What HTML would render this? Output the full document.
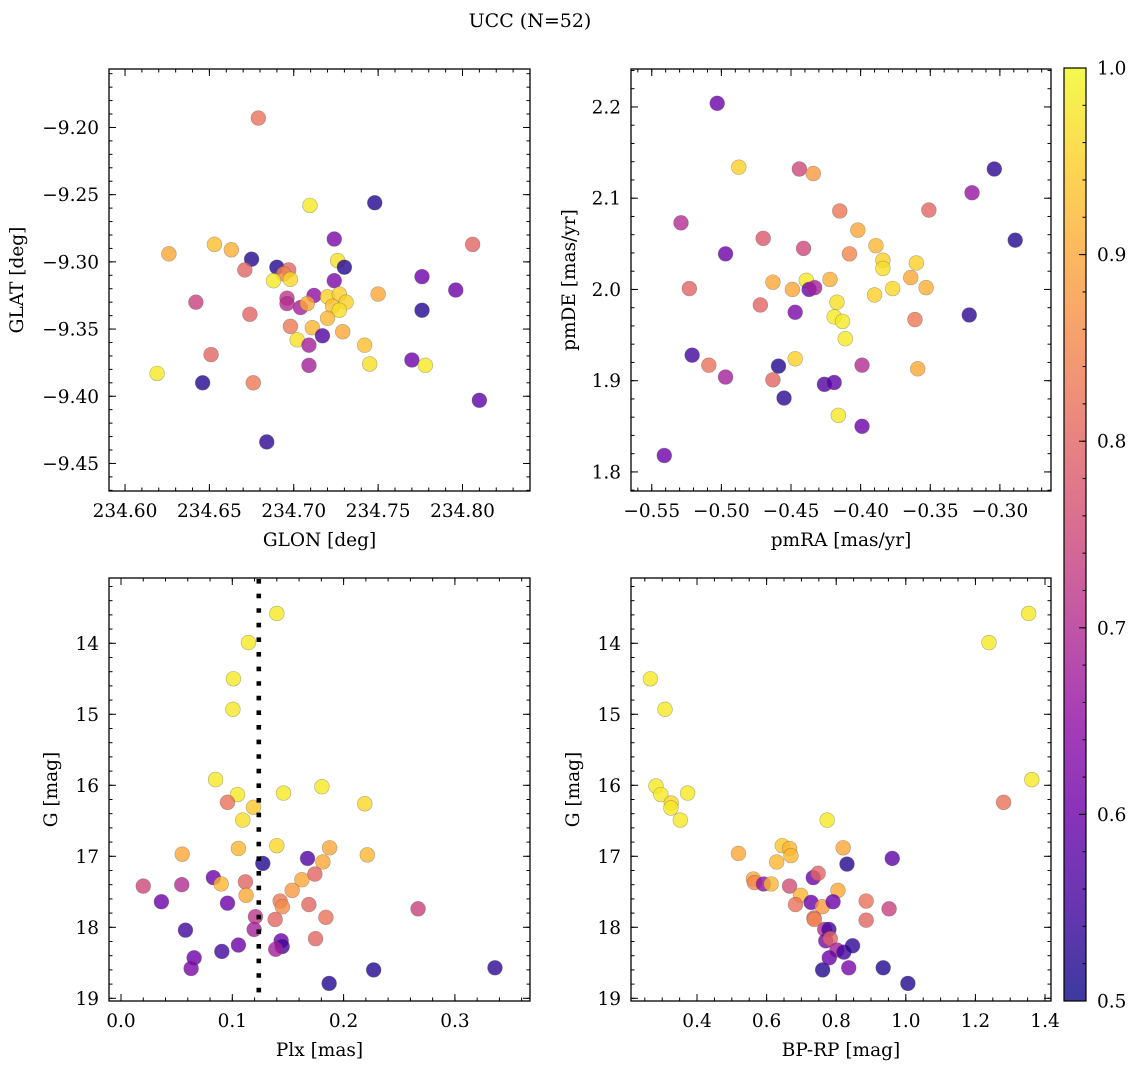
<!DOCTYPE html>
<html><head><meta charset="utf-8"><style>
html,body{margin:0;padding:0;background:#fff;}
svg text{font-family:"DejaVu Serif","Liberation Serif",serif;fill:#000;}
</style></head><body>
<svg id="fig" xmlns="http://www.w3.org/2000/svg" width="1136" height="1068" viewBox="0 0 1136 1068">
<rect x="0" y="0" width="1136" height="1068" fill="#fff"/>
<text x="530" y="27" font-size="19" text-anchor="middle">UCC (N=52)</text>
</svg>
<script>
// Panel 1: GLON vs GLAT
const glon=[234.679,234.7096,234.748,234.724,234.653,234.626,234.663,234.675,234.806,234.671,234.690,234.697,234.694,234.726,234.730,234.688,234.698,234.724,234.776,234.796,234.642,234.696,234.696,234.712,234.704,234.708,234.720,234.727,234.731,234.723,234.727,234.750,234.776,234.674,234.720,234.698,234.711,234.729,234.717,234.702,234.709,234.742,234.651,234.770,234.709,234.745,234.778,234.619,234.646,234.676,234.810,234.684];
const glat=[-9.193,-9.258,-9.256,-9.283,-9.287,-9.294,-9.291,-9.298,-9.287,-9.306,-9.304,-9.306,-9.309,-9.299,-9.304,-9.314,-9.313,-9.314,-9.311,-9.321,-9.330,-9.327,-9.331,-9.325,-9.334,-9.331,-9.326,-9.324,-9.330,-9.333,-9.336,-9.324,-9.336,-9.339,-9.342,-9.348,-9.349,-9.352,-9.355,-9.358,-9.362,-9.362,-9.369,-9.373,-9.377,-9.376,-9.377,-9.383,-9.390,-9.390,-9.403,-9.434];
const prob1=[0.82,0.98,0.52,0.62,0.93,0.9,0.91,0.52,0.8,0.8,0.52,0.8,0.85,0.97,0.52,0.98,0.96,0.62,0.6,0.6,0.74,0.72,0.7,0.65,0.68,0.9,0.95,0.95,0.95,0.93,0.97,0.9,0.52,0.8,0.92,0.83,0.92,0.9,0.57,0.97,0.68,0.93,0.8,0.6,0.68,0.97,0.98,0.98,0.52,0.83,0.58,0.53];
// Panel 2: pmRA vs pmDE
const pmra=[-0.503,-0.4875,-0.444,-0.434,-0.304,-0.320,-0.529,-0.415,-0.351,-0.402,-0.470,-0.441,-0.497,-0.408,-0.389,-0.384,-0.384,-0.289,-0.360,-0.523,-0.463,-0.439,-0.449,-0.437,-0.433,-0.422,-0.364,-0.353,-0.377,-0.390,-0.472,-0.417,-0.447,-0.419,-0.413,-0.361,-0.322,-0.411,-0.521,-0.447,-0.509,-0.459,-0.399,-0.359,-0.497,-0.463,-0.426,-0.419,-0.455,-0.416,-0.399,-0.541];
const pmde=[2.204,2.134,2.132,2.127,2.132,2.106,2.073,2.086,2.087,2.065,2.056,2.045,2.039,2.039,2.048,2.032,2.023,2.054,2.029,2.001,2.008,2.010,2.000,2.000,2.002,2.011,2.013,2.002,2.001,1.994,1.983,1.986,1.975,1.970,1.965,1.967,1.972,1.946,1.928,1.924,1.917,1.916,1.917,1.913,1.904,1.901,1.896,1.898,1.881,1.862,1.850,1.818];
const prob2=[0.6,0.95,0.75,0.88,0.53,0.66,0.7,0.83,0.8,0.9,0.78,0.75,0.6,0.85,0.92,0.95,0.97,0.52,0.95,0.8,0.9,0.98,0.9,0.6,0.68,0.91,0.9,0.91,0.96,0.95,0.8,0.97,0.62,0.98,0.98,0.83,0.53,0.98,0.55,0.95,0.82,0.52,0.7,0.9,0.68,0.8,0.57,0.58,0.53,0.98,0.6,0.6];
// Panel 3: Plx vs G
const plx=[0.140,0.1145,0.101,0.1005,0.085,0.1047,0.146,0.1805,0.0957,0.119,0.1094,0.219,0.055,0.1055,0.140,0.1874,0.2213,0.1274,0.1676,0.1814,0.020,0.0546,0.083,0.090,0.1118,0.1124,0.1625,0.1742,0.1538,0.0363,0.0957,0.143,0.145,0.1688,0.2669,0.1208,0.1385,0.1841,0.0579,0.1196,0.1748,0.1439,0.1448,0.139,0.1055,0.0906,0.0657,0.063,0.227,0.187,0.336];
const g3=[13.58,13.99,14.50,14.93,15.92,16.13,16.11,16.02,16.24,16.31,16.49,16.26,16.97,16.89,16.85,16.88,16.98,17.10,17.03,17.08,17.42,17.40,17.30,17.39,17.36,17.55,17.33,17.25,17.48,17.64,17.66,17.63,17.71,17.68,17.74,17.85,17.89,17.86,18.04,18.03,18.16,18.19,18.27,18.31,18.25,18.34,18.43,18.58,18.60,18.79,18.57];
const prob3=[0.98,0.98,0.98,0.98,0.98,0.98,0.98,0.98,0.82,0.94,0.97,0.96,0.9,0.92,0.96,0.9,0.92,0.52,0.57,0.9,0.75,0.7,0.6,0.92,0.8,0.9,0.9,0.8,0.88,0.6,0.6,0.83,0.86,0.8,0.74,0.72,0.8,0.82,0.55,0.68,0.8,0.6,0.55,0.68,0.6,0.55,0.6,0.62,0.52,0.52,0.53];
const plxLine=[0.1238];
// Panel 4: BP-RP vs G
const bprp=[1.353,1.239,0.266,0.308,1.362,1.281,0.282,0.296,0.326,0.325,0.373,0.352,0.774,0.519,0.645,0.666,0.670,0.629,0.820,0.831,0.961,0.562,0.565,0.591,0.613,0.666,0.734,0.748,0.698,0.805,0.683,0.728,0.760,0.791,0.886,0.952,0.736,0.737,0.886,0.767,0.779,0.770,0.783,0.802,0.822,0.847,0.780,0.761,0.836,0.935,1.006];
const g4=[13.58,13.99,14.50,14.93,15.92,16.24,16.01,16.13,16.25,16.32,16.11,16.49,16.49,16.96,16.85,16.89,16.99,17.08,16.88,17.11,17.03,17.32,17.37,17.39,17.39,17.42,17.30,17.24,17.55,17.48,17.68,17.65,17.71,17.64,17.63,17.74,17.87,17.89,17.90,18.03,18.03,18.19,18.16,18.32,18.35,18.26,18.43,18.60,18.57,18.57,18.79];
const prob4=[0.98,0.98,0.98,0.98,0.98,0.82,0.98,0.98,0.96,0.98,0.98,0.98,0.98,0.9,0.94,0.92,0.92,0.92,0.9,0.52,0.58,0.9,0.85,0.65,0.92,0.76,0.6,0.8,0.92,0.9,0.82,0.6,0.88,0.6,0.82,0.74,0.8,0.85,0.8,0.7,0.55,0.62,0.8,0.68,0.55,0.53,0.6,0.52,0.62,0.52,0.52];
const cbTicks=[0.5,0.6,0.7,0.8,0.9,1.0];

const NS="http://www.w3.org/2000/svg";
const svg=document.getElementById('fig');
const FS=18.5;
function mk(tag,attrs,parent){const e=document.createElementNS(NS,tag);for(const k in attrs)e.setAttribute(k,attrs[k]);(parent||svg).appendChild(e);return e;}
const stops=["#0d0887","#41049d","#6a00a8","#8f0da4","#b12a90","#cc4778","#e16462","#f2844b","#fca636","#fcce25","#f0f921"];
function hx(h){return [parseInt(h.slice(1,3),16),parseInt(h.slice(3,5),16),parseInt(h.slice(5,7),16)];}
function plasma(t){t=Math.max(0,Math.min(1,t));const f=t*10,i=Math.min(9,Math.floor(f)),r=f-i;const a=hx(stops[i]),b=hx(stops[i+1]);return 'rgb('+a.map((v,k)=>Math.round(v+(b[k]-v)*r)).join(',')+')';}
function cnorm(p){return (p-0.5)/0.5;}
function fmt(v,d){const s=Math.abs(v).toFixed(d);return (v<-1e-9?'\u2212':'')+s;}

function panel(o){
  const g=mk('g',{});
  
  
  const X=v=>o.px0+(v-o.xr[0])/(o.xr[1]-o.xr[0])*(o.px1-o.px0);
  const Y=v=>o.inv? o.py0+(v-o.yr[0])/(o.yr[1]-o.yr[0])*(o.py1-o.py0) : o.py1-(v-o.yr[0])/(o.yr[1]-o.yr[0])*(o.py1-o.py0);
  const tg=mk('g',{stroke:'#000','stroke-width':1},g);
  function ticksX(step,len,labels){
    const s=Math.ceil(o.xr[0]/step-1e-6);
    for(let k=s;k*step<=o.xr[1]+1e-9;k++){const v=k*step,x=X(v);
      mk('line',{x1:x,y1:o.py1,x2:x,y2:o.py1-len},tg);mk('line',{x1:x,y1:o.py0,x2:x,y2:o.py0+len},tg);
      if(labels){const t=mk('text',{x:x,y:o.py1+26,'font-size':FS,'text-anchor':'middle'},g);t.textContent=fmt(v,o.xd);
        
        }}
  }
  function ticksY(step,len,labels){
    const lo=Math.min(o.yr[0],o.yr[1]),hi=Math.max(o.yr[0],o.yr[1]);
    const s=Math.ceil(lo/step-1e-6);
    for(let k=s;k*step<=hi+1e-9;k++){const v=k*step,y=Y(v);
      mk('line',{x1:o.px0,y1:y,x2:o.px0+len,y2:y},tg);mk('line',{x1:o.px1,y1:y,x2:o.px1-len,y2:y},tg);
      if(labels){const t=mk('text',{x:o.px0-10,y:y+6.5,'font-size':FS,'text-anchor':'end'},g);t.textContent=fmt(v,o.yd);
        
        }}
  }
  ticksX(o.xmin,3.5,false);ticksX(o.xmaj,7,true);ticksY(o.ymin,3.5,false);ticksY(o.ymaj,7,true);
  for(let i=0;i<o.xs.length;i++){
    const c=mk('circle',{cx:X(o.xs[i]),cy:Y(o.ys[i]),r:7.4,fill:plasma(cnorm(o.ps[i])),'fill-opacity':0.8,stroke:'#555','stroke-opacity':0.45,'stroke-width':0.6},g);
    
    
  }
  if(o.vline){for(const v of o.vline){const l=mk('line',{x1:X(v),y1:o.py0+1,x2:X(v),y2:o.py1,stroke:'#000','stroke-width':4.6,'stroke-dasharray':'4.6 10'},g);
    
    }}
  const fr=mk('rect',{x:o.px0,y:o.py0,width:o.px1-o.px0,height:o.py1-o.py0,fill:'none',stroke:'#000','stroke-width':1.3},g);
  
  
  const xl=mk('text',{x:(o.px0+o.px1)/2,y:o.py1+55,'font-size':FS,'text-anchor':'middle'},g);xl.textContent=o.xlabel;
  
  
  const cy=(o.py0+o.py1)/2;
  const yl=mk('text',{x:o.ylx,y:cy,'font-size':FS,'text-anchor':'middle',transform:'rotate(-90 '+o.ylx+' '+cy+')'},g);yl.textContent=o.ylabel;
  
  
}

panel({name:'glon-glat-panel',xs:glon,ys:glat,ps:prob1,px0:109,px1:530,py0:69,py1:491,xr:[234.5905,234.840],yr:[-9.4705,-9.1565],inv:false,xmaj:0.05,xmin:0.01,ymaj:0.05,ymin:0.01,xd:2,yd:2,xlabel:'GLON [deg]',ylabel:'GLAT [deg]',ylx:23});
panel({name:'pm-panel',xs:pmra,ys:pmde,ps:prob2,px0:631,px1:1051,py0:69,py1:491,xr:[-0.5649,-0.2633],yr:[1.7791,2.2416],inv:false,xmaj:0.05,xmin:0.01,ymaj:0.1,ymin:0.02,xd:2,yd:1,xlabel:'pmRA [mas/yr]',ylabel:'pmDE [mas/yr]',ylx:575});
panel({name:'plx-g-panel',xs:plx,ys:g3,ps:prob3,vline:plxLine,px0:109,px1:530,py0:578,py1:1001,xr:[-0.01078,0.36747],yr:[13.0806,19.0380],inv:true,xmaj:0.1,xmin:0.02,ymaj:1,ymin:0.2,xd:1,yd:0,xlabel:'Plx [mas]',ylabel:'G [mag]',ylx:57});
panel({name:'cmd-panel',xs:bprp,ys:g4,ps:prob4,px0:631,px1:1051,py0:578,py1:1001,xr:[0.2103,1.4172],yr:[13.0806,19.0380],inv:true,xmaj:0.2,xmin:0.05,ymaj:1,ymin:0.2,xd:1,yd:0,xlabel:'BP-RP [mag]',ylabel:'G [mag]',ylx:579});

(function(){
  const x0=1064,x1=1086,y0=68,y1=1001;
  const cb=mk('g',{});
  
  
  const defs=mk('defs',{},svg);
  const lg=mk('linearGradient',{id:'cbg',x1:0,y1:1,x2:0,y2:0},defs);
  for(let i=0;i<=20;i++){mk('stop',{offset:(i/20),'stop-color':plasma(i/20),'stop-opacity':0.8},lg);}
  mk('rect',{x:x0,y:y0,width:x1-x0,height:y1-y0,fill:'url(#cbg)',stroke:'#000','stroke-width':1.2},cb);
  const Yc=v=>y1-(v-0.5)/0.5*(y1-y0);
  for(let k=25;k<=50;k++){const v=k*0.02,y=Yc(v);mk('line',{x1:x1,y1:y,x2:x1-3.5,y2:y,stroke:'#000','stroke-width':1},cb);}
  for(const v of cbTicks){const y=Yc(v);mk('line',{x1:x1,y1:y,x2:x1-7,y2:y,stroke:'#000','stroke-width':1},cb);
    const t=mk('text',{x:1097,y:y+6.5,'font-size':FS},cb);t.textContent=v.toFixed(1);
    
    }
})();
</script>
</body></html>
